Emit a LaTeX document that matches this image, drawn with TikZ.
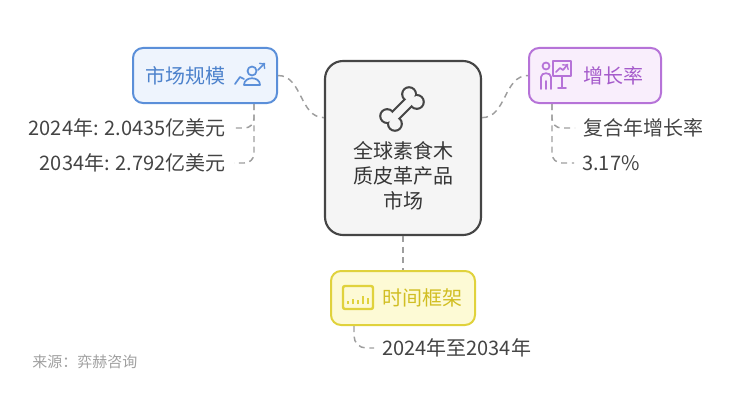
\documentclass[tikz,border=0pt]{standalone}
\usepackage{fontspec}
\setmainfont{Noto Sans CJK SC}

\definecolor{mline}{HTML}{5B8FD9}
\definecolor{mfill}{HTML}{EEF4FD}
\definecolor{mtext}{HTML}{4D82CC}
\definecolor{gline}{HTML}{B673D8}
\definecolor{gfill}{HTML}{F9EEFC}
\definecolor{gtext}{HTML}{A55BCB}
\definecolor{tline}{HTML}{E0D23C}
\definecolor{tfill}{HTML}{FDFAD5}
\definecolor{ttext}{HTML}{D1BE23}
\definecolor{coreline}{HTML}{454545}
\definecolor{corefill}{HTML}{F5F5F5}
\definecolor{linkgray}{HTML}{9E9E9E}
\definecolor{leafgray}{HTML}{444444}
\definecolor{srcgray}{HTML}{A0A0A0}

\tikzset{
  box/.style={draw, rounded corners=7.5pt, line width=1.5pt, minimum height=41.25pt,
    font=\fontsize{15pt}{18.75pt}\selectfont},
  marketbox/.style={box, draw=mline, fill=mfill, text=mtext,
    text width=90pt, inner xsep=9pt, align=left},
  growthbox/.style={box, draw=gline, fill=gfill, text=gtext,
    text width=72pt, inner xsep=13.5pt, align=right},
  timebox/.style={box, draw=tline, fill=tfill, text=ttext, minimum height=40.5pt,
    text width=88.5pt, inner xsep=9.75pt, align=right},
  corebox/.style={draw=coreline, fill=corefill, line width=1.6pt, rounded corners=13.5pt,
    minimum width=117pt, minimum height=130.5pt, align=center, text=leafgray!80!black,
    font=\fontsize{15pt}{18.75pt}\selectfont},
  leaf/.style={text=leafgray, font=\fontsize{15pt}{18pt}\selectfont, inner xsep=6pt, inner ysep=2pt},
  source/.style={text=srcgray, font=\fontsize{11.25pt}{13pt}\selectfont, inner sep=1.5pt},
  link/.style={draw=linkgray, line width=1.1pt, dash pattern=on 4.5pt off 3.5pt},
  iconline/.style={line width=1.3pt, line cap=round, line join=round},
}

\begin{document}
\begin{tikzpicture}[x=0.75pt,y=-0.75pt]
  \useasboundingbox (0,0) rectangle (734,410);

  % Hauptknoten
  \node[corebox] (core) at (403,148) {\mbox{}\\[35pt]全球素食木\\质皮革产品\\市场};

  % Knochen-Symbol
  \begin{scope}[shift={(402,109)}, rotate=45]
    \foreach \sx in {-1,1} \foreach \sy in {-1,1}
      \draw[coreline, line width=3.2pt] (\sx*15.5,\sy*5.5) circle (5.8);
    \draw[coreline, line width=3.2pt] (-15.5,-3.8) rectangle (15.5,3.8);
    \foreach \sx in {-1,1} \foreach \sy in {-1,1}
      \fill[corefill] (\sx*15.5,\sy*5.5) circle (5.8);
    \fill[corefill] (-15.5,-3.8) rectangle (15.5,3.8);
  \end{scope}

  % Zweige
  \node[marketbox] (msize) at (205,75.5) {市场规模};
  \node[growthbox] (growth) at (595,75.5) {增长率};
  \node[timebox] (tframe) at (403,298) {时间框架};

  % Symbole in den Zweigen
  \draw[mline, iconline] (235,84) -- (240,77) -- (244,79); % Kurve
  \draw[mline, iconline] (252,71) circle (4.5); % Kopf
  \draw[mline, iconline] (244,85) .. controls (244,76) and (260,76) .. (260,85) -- cycle;
  \draw[mline, iconline, ->] (258,70) -- (265,63);

  \draw[gline, iconline] (546,66) circle (3.5); % Kopf
  \draw[gline, iconline] (541,89) -- (541,77) .. controls (541,72) and (551,72) .. (551,77) -- (551,89);
  \draw[gline, iconline] (546,81) -- (546,89);
  \draw[gline, iconline] (553,61) rectangle (571,76); % Tafel
  \draw[gline, iconline, ->] (556,72) -- (560,68) -- (563,70) -- (568,64);
  \draw[gline, iconline] (562,76) -- (562,88) (558,88) -- (566,88);

  \draw[tline, line width=1.8pt, rounded corners=1.5pt] (343,286) rectangle (373,309);
  \foreach \x/\h in {348/3,353/5,358/4,363/8,368/6}
    \draw[tline, line width=1.5pt] (\x,304) -- (\x,{304-\h});

  % Blaetter
  \node[leaf, anchor=east] (m1) at (234,128) {2024年: 2.0435亿美元};
  \node[leaf, anchor=east] (m2) at (234,163) {2034年: 2.792亿美元};
  \node[leaf, anchor=west] (g1) at (575,128) {复合年增长率};
  \node[leaf, anchor=west] (g2) at (574,163) {3.17\%};
  \node[leaf, anchor=west] (t1) at (374,348) {2024年至2034年};

  % Quelle
  \node[source, anchor=west] (src) at (30,362) {来源：弈赫咨询};

  % Verbindungen
  \path (msize.south) ++(49,0) coordinate (mroot);
  \path (growth.south) ++(-43,0) coordinate (groot);
  \path (tframe.south) ++(-49,0) coordinate (troot);

  \draw[link] (msize.east) to[out=0,in=180] (core.159);
  \draw[link] (core.21) to[out=0,in=180] (growth.west);
  \draw[link] (core.south) -- (tframe.north);

  \draw[link, rounded corners=7pt] (mroot) |- (m1.east);
  \draw[link, rounded corners=7pt] (mroot) |- (m2.east);
  \draw[link, rounded corners=7pt] (groot) |- (g1.west);
  \draw[link, rounded corners=7pt] (groot) |- (g2.west);
  \draw[link, rounded corners=9pt] (troot) |- (t1.west);
\end{tikzpicture}
\end{document}
